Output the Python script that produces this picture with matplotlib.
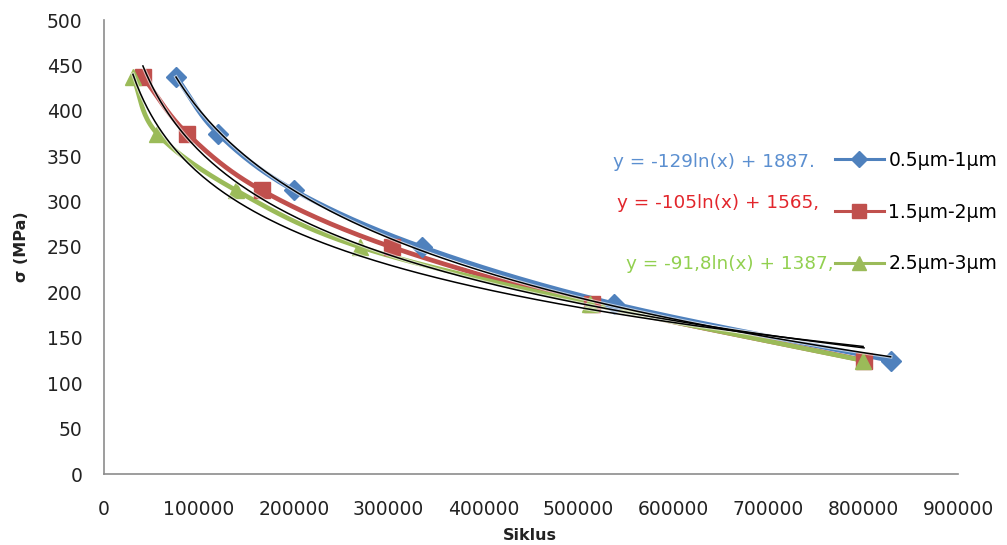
import numpy as np
import matplotlib
matplotlib.use("Agg")
import matplotlib.pyplot as plt
from matplotlib.lines import Line2D

# --- data ---
stress = [437.5, 375, 312.5, 250, 187.5, 125]

cycles_05_1 = [75900, 120000, 200000, 335000, 537000, 829000]
cycles_15_2 = [41000, 87500, 166000, 303000, 514000, 801000]
cycles_25_3 = [30500, 56000, 139000, 270000, 512000, 800000]

series_names = ["0.5µm-1µm", "1.5µm-2µm", "2.5µm-3µm"]
equations = ["y = -129ln(x) + 1887.", "y = -105ln(x) + 1565,", "y = -91,8ln(x) + 1387,"]

line_colors = ["#4F81BD", "#C0504D", "#9BBB59"]
eq_colors = ["#5B8FD0", "#E2262C", "#92D050"]
markers = ["D", "s", "^"]
marker_sizes = [10, 12, 11.5]


def smooth(x, y, n=40):
    # Catmull-Rom curve through the points, close to Excel's smoothed line
    x = np.asarray(x, float)
    y = np.asarray(y, float)
    px = np.concatenate([[2 * x[0] - x[1]], x, [2 * x[-1] - x[-2]]])
    py = np.concatenate([[2 * y[0] - y[1]], y, [2 * y[-1] - y[-2]]])
    xs, ys = [], []
    t = np.linspace(0, 1, n)
    for i in range(1, len(px) - 2):
        for p, out in ((px, xs), (py, ys)):
            p0, p1, p2, p3 = p[i - 1], p[i], p[i + 1], p[i + 2]
            out.extend(0.5 * ((2 * p1) + (-p0 + p2) * t
                              + (2 * p0 - 5 * p1 + 4 * p2 - p3) * t ** 2
                              + (-p0 + 3 * p1 - 3 * p2 + p3) * t ** 3))
    return np.array(xs), np.array(ys)


fig = plt.figure(figsize=(10.07, 5.45), dpi=100)
ax = fig.add_axes([104 / 1007, 1 - 474 / 545, (958 - 104) / 1007, (474 - 20) / 545])

all_cycles = [cycles_05_1, cycles_15_2, cycles_25_3]
for cyc, col, mk, ms in zip(all_cycles, line_colors, markers, marker_sizes):
    sx, sy = smooth(cyc, stress)
    ax.plot(sx, sy, color=col, lw=3.4, zorder=2, solid_capstyle="round")
    ax.plot(cyc, stress, linestyle="none", marker=mk, ms=ms, color=col, zorder=3)

# logarithmic trendlines (black)
for cyc in all_cycles:
    a, b = np.polyfit(np.log(cyc), stress, 1)
    tx = np.linspace(min(cyc), max(cyc), 200)
    ax.plot(tx, a * np.log(tx) + b, color="white", lw=2.6, zorder=4, alpha=0.6)
    ax.plot(tx, a * np.log(tx) + b, color="black", lw=1.1, zorder=5)

ax.set_xlim(0, 900000)
ax.set_ylim(0, 500)
ax.set_xticks(np.arange(0, 900001, 100000))
ax.set_yticks(np.arange(0, 501, 50))
ax.tick_params(length=0, labelsize=13.5, colors="#222222")
ax.tick_params(axis="x", pad=19)
ax.tick_params(axis="y", pad=15.5)
for side in ["top", "right"]:
    ax.spines[side].set_visible(False)
for side in ["left", "bottom"]:
    ax.spines[side].set_color("#8C8C8C")
    ax.spines[side].set_linewidth(1.2)

fig.text(22 / 1007, 1 - 247 / 545, "σ (MPa)", rotation=90, ha="center", va="center",
         fontsize=11.5, fontweight="bold", color="#222222")
fig.text(530 / 1007, 1 - 536 / 545, "Siklus", ha="center", va="center",
         fontsize=11.5, fontweight="bold", color="#222222")

# trendline equations
eq_pos = [(815, 162), (819, 203), (833, 264)]
for txt, col, (ex, ey) in zip(equations, eq_colors, eq_pos):
    fig.text(ex / 1007, 1 - ey / 545, txt, ha="right", va="center", fontsize=13.2, color=col)

handles = [Line2D([0], [0], color=c, lw=2.2, marker=m, ms=s * 0.85)
           for c, m, s in zip(line_colors, markers, marker_sizes)]
fig.legend(handles, series_names, loc="center left",
           bbox_to_anchor=(835 / 1007, 1 - 212 / 545), frameon=False,
           fontsize=13.5, handlelength=2.6, handletextpad=0.25,
           labelspacing=1.75, borderaxespad=0, borderpad=0)

fig.savefig("out.png", dpi=100)
